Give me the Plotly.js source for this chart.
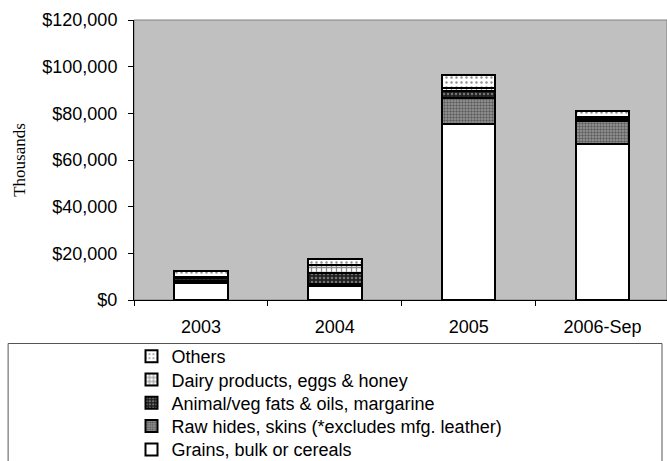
<!DOCTYPE html>
<html>
<head>
<meta charset="utf-8">
<script src="https://cdn.plot.ly/plotly-3.0.1.min.js"></script>
<style>html,body{margin:0;padding:0;background:#fff;}#chart{width:667px;height:461px;}</style>
</head>
<body>
<div id="chart"></div>
<script>
var categories = ['2003', '2004', '2005', '2006-Sep'];
var grains = [7400, 6000, 75400, 66800];
var hides = [700, 800, 11200, 10100];
var fats = [1200, 4800, 3000, 800];
var dairy = [600, 3200, 1300, 700];
var others = [2500, 2900, 5600, 2400];
var seriesNames = ['Grains, bulk or cereals', 'Raw hides, skins (*excludes mfg. leather)',
  'Animal/veg fats & oils, margarine', 'Dairy products, eggs & honey', 'Others'];
var yTickVals = [0, 20000, 40000, 60000, 80000, 100000, 120000];
var yTickText = ['$0', '$20,000', '$40,000', '$60,000', '$80,000', '$100,000', '$120,000'];

var W = 667, H = 461;
var L = 133.5, T = 20, B = 161, R = 0;
var pw = W - L - R, ph = H - T - B;
function px2x(p) { return (p - L) / pw; }
function py2y(p) { return (H - B - p) / ph; }

var line = {color: '#000', width: 2};
var legendIds = ['legend5', 'legend4', 'legend3', 'legend2', 'legend'];
function mk(i, y, pattern, color) {
  return {
    type: 'bar', name: seriesNames[i], x: categories, y: y,
    legend: legendIds[i],
    marker: {color: color, line: line, pattern: pattern},
    hoverinfo: 'x+y+name'
  };
}
var traces = [
  mk(0, grains, {shape: ''}, '#ffffff'),
  mk(1, hides, {shape: '.', fillmode: 'overlay', bgcolor: '#9a9a9a', fgcolor: '#202020', size: 3, solidity: 0.5}, '#9a9a9a'),
  mk(2, fats, {shape: '.', fillmode: 'overlay', bgcolor: '#202020', fgcolor: '#c8c8c8', size: 4, solidity: 0.3}, '#202020'),
  mk(3, dairy, {shape: '+', fillmode: 'overlay', bgcolor: '#ffffff', fgcolor: '#202020', size: 5, solidity: 0.45}, '#ffffff'),
  mk(4, others, {shape: '.', fillmode: 'overlay', bgcolor: '#ffffff', fgcolor: '#202020', size: 5, solidity: 0.18}, '#ffffff')
];

var font = {family: 'Liberation Sans, Arial, sans-serif', size: 18, color: '#000'};
function leg(rowCenter) {
  return {
    x: px2x(131), xanchor: 'left',
    y: py2y(rowCenter - 19), yanchor: 'top',
    bgcolor: 'rgba(0,0,0,0)', borderwidth: 0, font: font
  };
}
var layout = {
  width: W, height: H,
  margin: {l: L, r: R, t: T, b: B, pad: 0, autoexpand: false},
  paper_bgcolor: '#ffffff',
  plot_bgcolor: '#c0c0c0',
  barmode: 'stack',
  bargap: 0.6,
  font: font,
  showlegend: true,
  legend: leg(357),
  legend2: leg(380.3),
  legend3: leg(403.6),
  legend4: leg(426.9),
  legend5: leg(450.2),
  xaxis: {
    type: 'category',
    range: [-0.5, -0.5 + pw / 134],
    showgrid: false, zeroline: false,
    showline: true, linecolor: '#000', linewidth: 1,
    ticks: 'outside', ticklen: 5, tickcolor: '#000', tickson: 'boundaries',
    tickfont: font, ticklabelstandoff: 10,
    fixedrange: true
  },
  yaxis: {
    range: [0, 120000],
    tickmode: 'array',
    tickvals: yTickVals,
    ticktext: yTickText,
    showgrid: false, zeroline: false,
    showline: true, linecolor: '#000', linewidth: 1,
    ticks: 'outside', ticklen: 5, tickcolor: '#000',
    tickfont: font, ticklabelstandoff: 7,
    title: {text: 'Thousands', font: {family: 'Liberation Serif, Times New Roman, serif', size: 17, color: '#000'}, standoff: 12},
    fixedrange: true
  },
  shapes: [
    {type: 'rect', xref: 'paper', yref: 'paper', x0: 0, x1: 1, y0: 0, y1: 1,
     line: {color: '#808080', width: 1}, fillcolor: 'rgba(0,0,0,0)', layer: 'below'},
    {type: 'rect', xref: 'paper', yref: 'paper',
     x0: px2x(7.5), x1: px2x(662), y0: py2y(343.5), y1: py2y(470),
     line: {color: '#555555', width: 1}, fillcolor: 'rgba(0,0,0,0)', layer: 'below'}
  ]
};
Plotly.newPlot('chart', traces, layout, {displayModeBar: false, staticPlot: true});
</script>
</body>
</html>
